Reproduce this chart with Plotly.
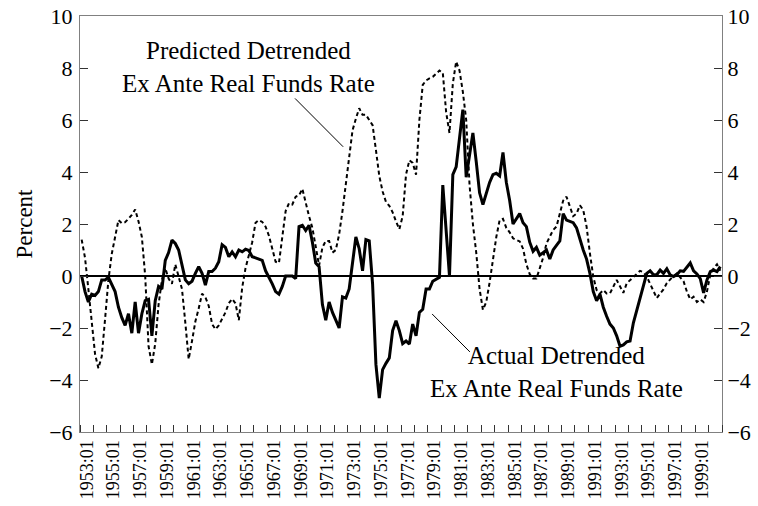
import plotly.graph_objects as go

quarters = [f"{y}:{q:02d}" for y in range(1953, 2001) for q in range(1, 5)]

actual = [
    0.0, -0.6, -1.0, -0.7, -0.75, -0.6, -0.15, -0.15, -0.05, -0.3,
    -0.6, -1.2, -1.6, -1.9, -1.45, -2.2, -1.0, -2.2, -1.45, -0.95,
    -0.9, -2.3, -0.95, -0.4, -0.5, 0.6, 0.9, 1.38, 1.25, 1.0,
    0.4, -0.15, -0.3, -0.2, 0.1, 0.36, 0.1, -0.35, 0.17, 0.17,
    0.3, 0.55, 1.2, 1.1, 0.74, 0.93, 0.74, 1.0, 0.93, 1.03,
    0.98, 0.74, 0.7, 0.65, 0.6, 0.2, -0.03, -0.3, -0.6, -0.7,
    -0.4, 0.0, 0.0, 0.0, -0.1, 1.9, 1.95, 1.75, 1.95, 1.3,
    0.5, 0.36, -1.1, -1.7, -1.0, -1.4, -1.7, -2.0, -0.8, -0.85,
    -0.5, 0.4, 1.5, 1.05, 0.2, 1.4, 1.35, -0.3, -3.4, -4.7,
    -3.6, -3.36, -3.15, -2.1, -1.72, -2.1, -2.6, -2.5, -2.62, -1.85,
    -2.3, -1.4, -1.28, -0.5, -0.5, -0.2, -0.12, -0.05, 3.5, 1.75,
    0.0, 3.9, 4.2, 5.3, 6.4, 3.8, 4.6, 5.5, 4.4, 3.2,
    2.75, 3.2, 3.6, 3.9, 3.95, 3.85, 4.75, 3.6, 2.9, 2.0,
    2.2, 2.4, 2.05, 1.9, 1.3, 0.95, 1.1, 0.8, 0.9, 1.0,
    0.65, 1.0, 1.18, 1.35, 2.4, 2.15, 2.1, 2.05, 1.85, 1.4,
    1.0, 0.65, 0.1, -0.6, -0.95, -0.7, -1.2, -1.55, -1.85, -2.0,
    -2.3, -2.7, -2.65, -2.53, -2.5, -1.8, -1.3, -0.8, -0.3, 0.1,
    0.2, 0.05, 0.05, 0.23, 0.1, 0.28, 0.04, -0.02, 0.05, 0.2,
    0.18, 0.35, 0.5, 0.2, 0.08, -0.1, -0.65, -0.15, 0.17, 0.23,
    0.17, 0.36,
]

predicted = [
    1.4, 0.7, -0.5, -1.9, -3.0, -3.55, -3.1, -1.65, -0.15, 0.85,
    1.55, 2.15, 2.03, 2.07, 2.2, 2.35, 2.56, 2.1, 1.5, 0.0,
    -2.7, -3.4, -2.6, -1.1, -0.15, 0.3, -0.1, -0.3, 0.45, -0.05,
    -0.5, -1.8, -3.2, -2.5, -1.75, -1.25, -0.68, -0.82, -1.15, -1.85,
    -2.05, -1.9, -1.65, -1.4, -1.05, -0.88, -1.05, -1.7, -0.45, 0.3,
    0.8, 1.3, 2.05, 2.15, 2.08, 1.9, 1.55, 1.05, 0.55, 0.5,
    1.4, 2.5, 2.8, 2.75, 3.05, 3.1, 3.35, 2.8, 2.3, 1.85,
    1.1, 0.4, 1.1, 1.35, 1.35, 0.9, 1.0, 1.6, 2.5, 3.55,
    4.7, 5.6, 6.05, 6.45, 6.2, 6.2, 6.0, 5.8, 4.85, 3.85,
    3.25, 2.85, 2.7, 2.45, 2.1, 1.8, 2.3, 3.9, 4.45, 4.35,
    3.9, 6.0, 7.35, 7.52, 7.6, 7.66, 7.78, 7.9, 7.82, 6.3,
    5.5, 7.4, 8.25, 7.9, 7.08, 6.0, 3.5, 2.0, 0.9, -0.5,
    -1.3, -1.0, -0.25, 0.6, 1.5, 2.15, 2.2, 1.85, 1.68, 1.45,
    1.38, 1.33, 1.05, 0.45, 0.07, -0.1, -0.1, 0.3, 0.7, 1.25,
    1.5, 1.77, 1.9, 2.4, 2.9, 3.05, 2.68, 2.3, 2.4, 2.72,
    2.54, 1.9, 0.87, -0.03, -0.54, -0.67, -0.54, -0.67, -0.67, -0.4,
    -0.15, -0.4, -0.65, -0.28, -0.15, -0.03, 0.1, 0.2, 0.15, -0.03,
    -0.3, -0.55, -0.85, -0.67, -0.52, -0.27, -0.13, 0.0, 0.1, -0.05,
    -0.2, -0.6, -0.9, -0.8, -1.0, -0.9, -1.0, -0.6, 0.05, 0.3,
    0.45, 0.2,
]

tick_labels = [
    "1953:01", "1955:01", "1957:01", "1959:01", "1961:01", "1963:01",
    "1965:01", "1967:01", "1969:01", "1971:01", "1973:01", "1975:01",
    "1977:01", "1979:01", "1981:01", "1983:01", "1985:01", "1987:01",
    "1989:01", "1991:01", "1993:01", "1995:01", "1997:01", "1999:01",
]
y_ticks = [10, 8, 6, 4, 2, 0, -2, -4, -6]

idx = list(range(len(quarters)))
label_pos = [quarters.index(t) + 1.5 for t in tick_labels]
year_bounds = [i - 0.5 for i in range(0, len(quarters) + 1, 4)]

FONT = "Liberation Serif, Times New Roman, serif"
AX = "#808080"

fig = go.Figure()
fig.add_trace(go.Scatter(
    x=idx, y=predicted, mode="lines", name="Predicted",
    line=dict(color="black", width=2, dash="4px,3px"),
    hovertext=quarters, yaxis="y",
))
fig.add_trace(go.Scatter(
    x=idx, y=actual, mode="lines", name="Actual",
    line=dict(color="black", width=3),
    hovertext=quarters, yaxis="y2",
))

fig.add_annotation(
    x=50.0, y=8.05, xref="x", yref="y",
    text="Predicted Detrended<br>Ex Ante Real Funds Rate",
    showarrow=False, font=dict(family=FONT, size=25, color="black"),
    align="center",
)
fig.add_annotation(
    x=142.1, y=-3.7, xref="x", yref="y",
    text="Actual Detrended<br>Ex Ante Real Funds Rate",
    showarrow=False, font=dict(family=FONT, size=25, color="black"),
    align="center",
)
fig.add_shape(type="line", xref="x", yref="y", x0=63.8, y0=6.83, x1=78.2, y1=4.97,
              line=dict(color="black", width=1))
fig.add_shape(type="line", xref="x", yref="y", x0=104.8, y0=-1.46, x1=116.1, y1=-2.92,
              line=dict(color="black", width=1))

fig.update_layout(
    width=758, height=506,
    margin=dict(l=80, r=36, t=16, b=74, autoexpand=False),
    paper_bgcolor="white", plot_bgcolor="white",
    showlegend=False,
    font=dict(family=FONT, color="black"),
    xaxis=dict(
        range=[-0.5, len(quarters) - 0.5], automargin=False,
        tickmode="array", tickvals=label_pos, ticktext=tick_labels,
        tickangle=-90, ticks="", ticklen=0,
        tickfont=dict(family=FONT, size=18, color="black"),
        showgrid=False, zeroline=False,
        showline=True, linecolor=AX, linewidth=1, mirror=True,
        minor=dict(tickmode="array", tickvals=year_bounds, ticks="inside",
                   ticklen=7, tickwidth=1, tickcolor="#333", showgrid=False),
    ),
    yaxis=dict(
        range=[-6, 10], tickmode="array", tickvals=y_ticks, automargin=False,
        ticks="inside", ticklen=8, tickcolor="#333",
        tickfont=dict(family=FONT, size=22, color="black"),
        showgrid=False, zeroline=True, zerolinecolor="black", zerolinewidth=2,
        showline=True, linecolor=AX, linewidth=1,
        title=dict(text="Percent", font=dict(family=FONT, size=23, color="black"), standoff=10),
        ticklabelstandoff=2,
    ),
    yaxis2=dict(
        range=[-6, 10], tickmode="array", tickvals=y_ticks, automargin=False,
        overlaying="y", side="right",
        ticks="inside", ticklen=8, tickcolor="#333",
        tickfont=dict(family=FONT, size=22, color="black"),
        showgrid=False, zeroline=False,
        showline=True, linecolor=AX, linewidth=1,
        ticklabelstandoff=0,
    ),
)

fig.write_html(
    "out.html",
    config={"displayModeBar": False},
    post_script="document.body.style.margin='0';document.body.style.overflow='hidden';",
)
